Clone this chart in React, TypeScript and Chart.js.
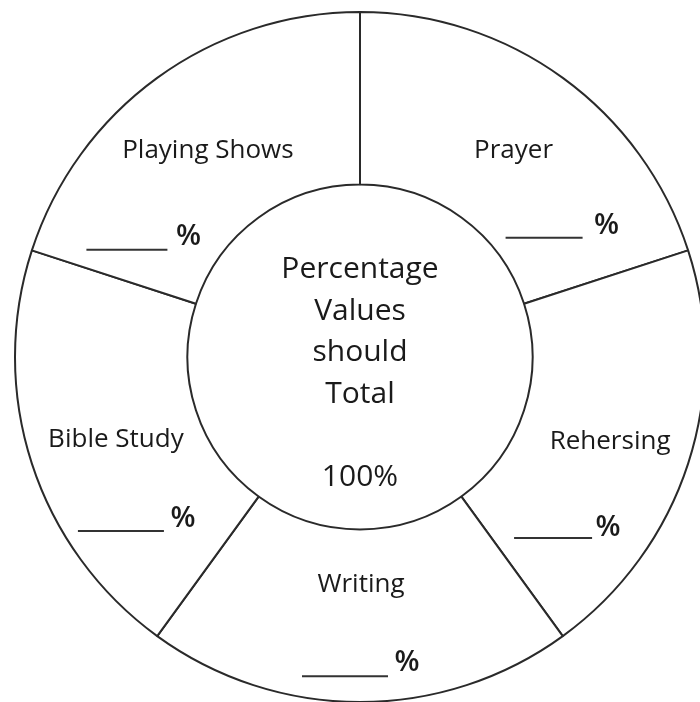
import React, { useEffect, useRef } from "react";
import { Chart, registerables } from "chart.js";

Chart.register(...registerables);

// Slices, clockwise from the top
const categories = ["Prayer", "Rehersing", "Writing", "Bible Study", "Playing Shows"];
const sliceValues = [20, 20, 20, 20, 20];
const centerLines = ["Percentage", "Values", "should", "Total", "", "100%"];
const blankText = "%";

// layout offsets from each slice centroid (label baseline, blank line start/length/baseline, % x)
const labelDx = [1.5, 4, 1, 2, 0];
const labelDy = [10, 12, -24, 10, 10];
const lineDx = [-6.5, -92, -58, -36, -121.5];
const lineLen = [77, 78, 86, 86, 81];
const lineDy = [90, 101, 60.5, 94, 102];
const pctDx = [82, -10.5, 34.5, 56.5, -32];
const pctDy = [86, 99, 55.5, 90, 97];

const FONT = "'Open Sans', Lato, sans-serif";
const INK = "#1a1a1a";

const textPlugin = {
  id: "worksheetText",
  afterDraw(chart: any) {
    const ctx = chart.ctx as CanvasRenderingContext2D;
    const meta = chart.getDatasetMeta(0);
    ctx.save();
    ctx.fillStyle = INK;
    ctx.strokeStyle = "#333333";
    meta.data.forEach((arc: any, i: number) => {
      const p = arc.getProps(["x", "y", "startAngle", "endAngle", "innerRadius", "outerRadius"], true);
      const mid = (p.startAngle + p.endAngle) / 2;
      const r = (p.innerRadius + p.outerRadius) / 2;
      const cx = p.x + Math.cos(mid) * r;
      const cy = p.y + Math.sin(mid) * r;
      ctx.font = `26px ${FONT}`;
      ctx.textAlign = "center";
      ctx.textBaseline = "alphabetic";
      ctx.fillText(categories[i], cx + labelDx[i], cy + labelDy[i]);
      // blank line
      ctx.lineWidth = 2;
      ctx.beginPath();
      ctx.moveTo(cx + lineDx[i], cy + lineDy[i]);
      ctx.lineTo(cx + lineDx[i] + lineLen[i], cy + lineDy[i]);
      ctx.stroke();
      ctx.font = `600 29px ${FONT}`;
      ctx.textAlign = "left";
      ctx.fillText(blankText, cx + pctDx[i], cy + pctDy[i]);
    });
    const a0: any = meta.data[0];
    if (a0) {
      const c = a0.getProps(["x", "y"], true);
      ctx.font = `30px ${FONT}`;
      ctx.textAlign = "center";
      centerLines.forEach((t, k) => {
        if (t) ctx.fillText(t, c.x, c.y - 79 + k * 41.5);
      });
    }
    ctx.restore();
  },
};

export default function App() {
  const ref = useRef<HTMLCanvasElement | null>(null);
  useEffect(() => {
    if (!ref.current) return;
    const chart = new Chart(ref.current, {
      type: "doughnut",
      data: {
        labels: categories,
        datasets: [
          {
            data: sliceValues,
            backgroundColor: "#ffffff",
            borderColor: "#2a2a2a",
            borderWidth: 2,
            hoverOffset: 0,
          },
        ],
      },
      options: {
        responsive: false,
        animation: false,
        cutout: "50%",
        layout: { padding: { left: 14, top: 11, right: 14, bottom: 17 } },
        plugins: {
          legend: { display: false },
          tooltip: { enabled: false },
        },
        events: [],
      },
      plugins: [textPlugin],
    });
    return () => chart.destroy();
  }, []);
  return (
    <div style={{ position: "fixed", left: 0, top: 0, width: 720, height: 720, background: "#fff" }}>
      <canvas ref={ref} width={720} height={720} style={{ width: 720, height: 720, display: "block" }} />
    </div>
  );
}
